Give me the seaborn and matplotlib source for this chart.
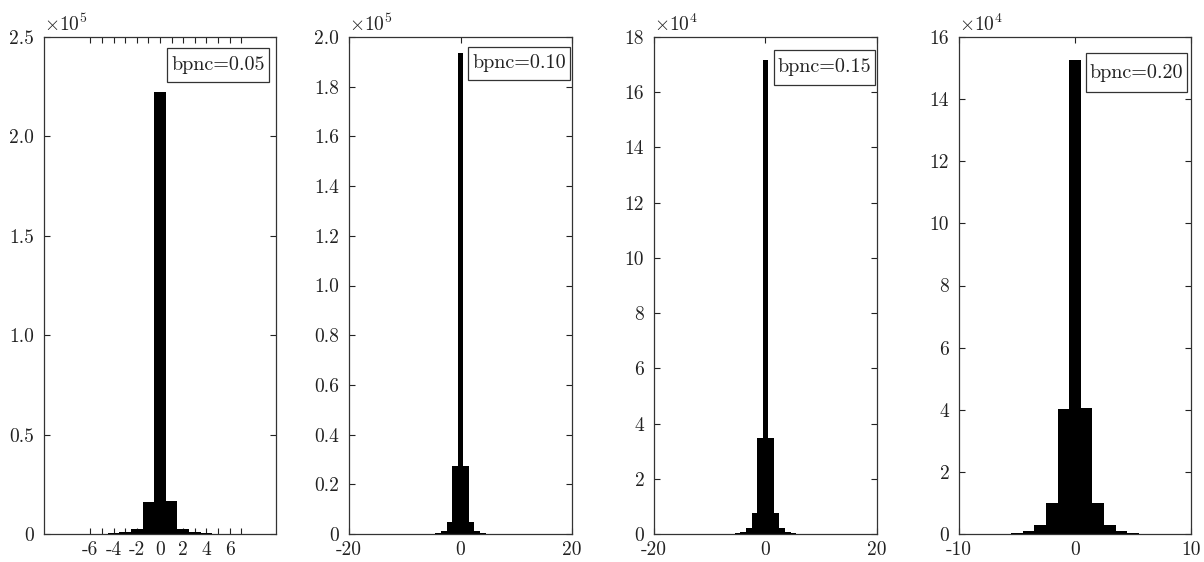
import numpy as np
import pandas as pd
import matplotlib
matplotlib.use('Agg')
import matplotlib.pyplot as plt
from matplotlib.patches import Rectangle
import seaborn as sns

# bin centres (integer, width 1) and counts
bins_005 = list(range(-7, 8))
counts_005 = [20, 50, 100, 300, 1000, 2500, 16200, 222500, 16400, 2500, 900, 300, 100, 50, 20]

bins_010 = list(range(-8, 9))
counts_010 = [15, 30, 60, 150, 400, 1300, 4800, 27500, 193500, 27300, 4800, 1300, 400, 150, 60, 30, 15]

bins_015 = list(range(-8, 9))
counts_015 = [20, 40, 100, 250, 700, 2200, 7600, 34700, 171600, 34700, 7600, 2200, 700, 250, 100, 40, 20]

bins_020 = list(range(-8, 9))
counts_020 = [25, 60, 150, 400, 1000, 2900, 9900, 40300, 152500, 40700, 9900, 2900, 1000, 400, 150, 60, 25]

labels = ['bpnc=0.05', 'bpnc=0.10', 'bpnc=0.15', 'bpnc=0.20']
scales = [1e5, 1e5, 1e4, 1e4]
exponents = ['5', '5', '4', '4']
ylims = [2.5, 2.0, 18, 16]
yticks = [[0, 0.5, 1.0, 1.5, 2.0, 2.5],
          [0, 0.2, 0.4, 0.6, 0.8, 1.0, 1.2, 1.4, 1.6, 1.8, 2.0],
          list(range(0, 19, 2)),
          list(range(0, 17, 2))]
ytick_labels = [['0', '0.5', '1.0', '1.5', '2.0', '2.5'],
                ['0', '0.2', '0.4', '0.6', '0.8', '1.0', '1.2', '1.4', '1.6', '1.8', '2.0'],
                [str(v) for v in range(0, 19, 2)],
                [str(v) for v in range(0, 17, 2)]]
xlims = [(-10, 10), (-20, 20), (-20, 20), (-10, 10)]
xticks = [list(range(-6, 8)), [-20, 0, 20], [-20, 0, 20], [-10, 0, 10]]
xtick_labels = [['-6', '', '-4', '', '-2', '', '0', '', '2', '', '4', '', '6', ''],
                ['-20', '0', '20'], ['-20', '0', '20'], ['-10', '0', '10']]

sns.set_style('ticks')
plt.rcParams['font.family'] = ['cmr10', 'DejaVu Serif']
plt.rcParams['mathtext.fontset'] = 'cm'
plt.rcParams['axes.unicode_minus'] = False
plt.rcParams['axes.formatter.use_mathtext'] = True

data = [(bins_005, counts_005), (bins_010, counts_010), (bins_015, counts_015), (bins_020, counts_020)]

W, H = 1204, 562
fig = plt.figure(figsize=(12.04, 5.62), dpi=100)
lefts = [44, 349, 654, 959]
rights = [276, 572, 877, 1191]
bottom, top = 534, 37
# label boxes in pixels: x0, x1, y0 (top), y1 (bottom)
boxes = [(167, 269, 48, 82), (468, 570, 47, 80), (774, 875, 50, 85), (1086, 1187, 53, 92)]

for i, (b, c) in enumerate(data):
    ax = fig.add_axes([lefts[i] / W, (H - bottom) / H,
                       (rights[i] - lefts[i]) / W, (bottom - top) / H])
    df = pd.DataFrame({'bin': b, 'count': np.array(c) / scales[i]})
    sns.histplot(data=df, x='bin', weights='count', discrete=True, ax=ax,
                 color='black', edgecolor='black', linewidth=0, alpha=1)
    ax.set_xlim(*xlims[i])
    ax.set_ylim(0, ylims[i])
    ax.set_xticks(xticks[i])
    ax.set_xticklabels(xtick_labels[i])
    ax.set_yticks(yticks[i])
    ax.set_yticklabels(ytick_labels[i])
    ax.set_xlabel('')
    ax.set_ylabel('')
    ax.tick_params(direction='in', top=True, right=True, length=4, width=0.8,
                   labelsize=14, colors='#222222')
    ax.tick_params(axis='y', pad=7)
    ax.tick_params(axis='x', pad=5)
    for s in ax.spines.values():
        s.set_linewidth(0.9)
        s.set_color('#333333')
    ax.text(0.0, 1.004, r'$\times10^{' + exponents[i] + '}$', transform=ax.transAxes,
            ha='left', va='bottom', fontsize=14, color='#222222')

    # legend-like box
    x0, x1, y0, y1 = boxes[i]
    ax_w = rights[i] - lefts[i]
    ax_h = bottom - top
    fx0 = (x0 - lefts[i]) / ax_w
    fx1 = (x1 - lefts[i]) / ax_w
    fy0 = (bottom - y1) / ax_h
    fy1 = (bottom - y0) / ax_h
    ax.add_patch(Rectangle((fx0, fy0), fx1 - fx0, fy1 - fy0, transform=ax.transAxes,
                           facecolor='white', edgecolor='#333333', linewidth=0.9, zorder=5))
    ax.text((fx0 + fx1) / 2, (fy0 + fy1) / 2, labels[i], transform=ax.transAxes,
            ha='center', va='center', fontsize=14.5, color='#222222', zorder=6)

fig.savefig('out.png', dpi=100)
